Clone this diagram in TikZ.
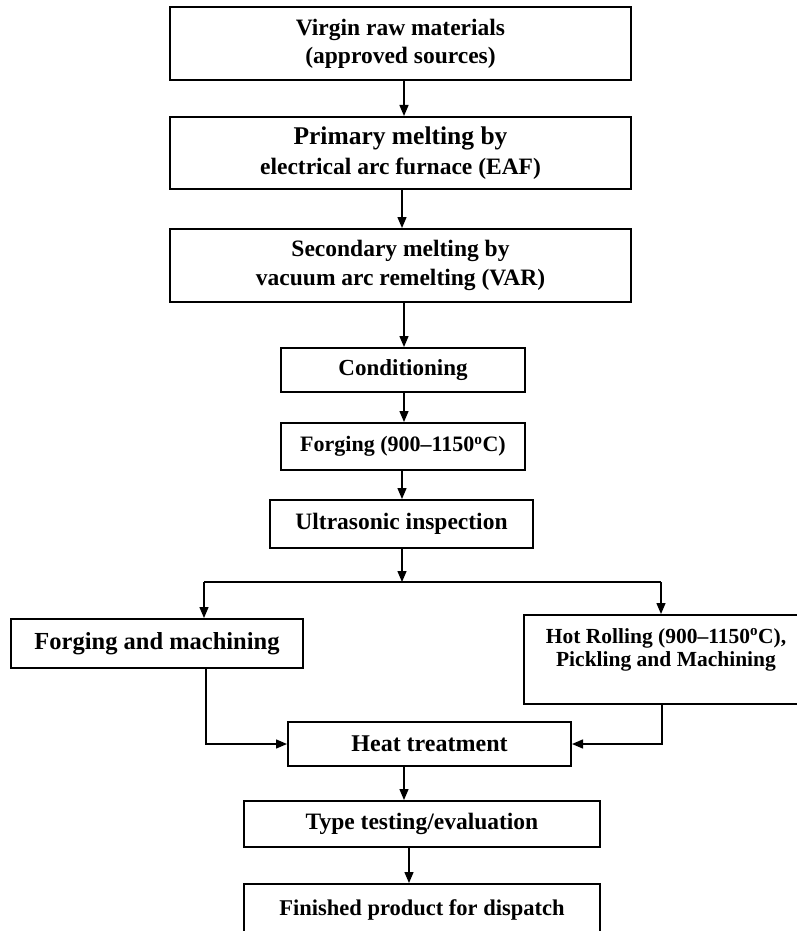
\documentclass[tikz,border=0pt]{standalone}
\usepackage{fontspec}
\setmainfont{Liberation Serif}
\usepackage{tikz}
\usetikzlibrary{arrows.meta,calc}

\begin{document}
\begin{tikzpicture}[
    x=1pt,
    y=-1pt,
    stage/.style={
        draw,
        line width=2pt,
        align=center,
        inner sep=0pt,
        font=\bfseries
    },
    arrow/.style={-{Triangle[length=11pt,width=9pt]}, line width=1.4pt},
    link/.style={line width=1.4pt}
]

\useasboundingbox (0,0) rectangle (796,931);

% ============================================================
% Melting route
% ============================================================

\node[
    stage,
    minimum width=461pt,
    minimum height=73pt,
    font=\bfseries\fontsize{23.5}{28}\selectfont
] (raw) at (400.5,43.5)
{
Virgin raw materials\\
(approved sources)
};

\node[
    stage,
    minimum width=461pt,
    minimum height=72pt,
    font=\bfseries\fontsize{23.5}{30}\selectfont
] (eaf) at (400.5,153)
{
{\fontsize{25.5}{30}\selectfont Primary melting by}\\
electrical arc furnace (EAF)
};

\node[
    stage,
    minimum width=461pt,
    minimum height=73pt,
    font=\bfseries\fontsize{23.5}{29}\selectfont
] (var) at (400.5,265.5)
{
Secondary melting by\\
vacuum arc remelting (VAR)
};

% ============================================================
% Billet preparation
% ============================================================

\node[
    stage,
    minimum width=244pt,
    minimum height=44pt,
    font=\bfseries\fontsize{23}{28}\selectfont
] (cond) at (403,370)
    {Conditioning};

\node[
    stage,
    minimum width=244pt,
    minimum height=47pt,
    font=\bfseries\fontsize{22}{26}\selectfont
] (forge) at (403,446.5)
    {Forging (900--1150\textsuperscript{o}C)};

\node[
    stage,
    minimum width=263pt,
    minimum height=48pt,
    font=\bfseries\fontsize{23.5}{28}\selectfont
] (ultra) at (401.5,524)
    {Ultrasonic inspection};

% Main axis of the column
\coordinate (axis) at (404,0);
\coordinate (axisb) at (402,0);

\draw[arrow] (raw.south -| axis) -- (eaf.north -| axis);
\draw[arrow] (eaf.south -| axisb) -- (var.north -| axisb);
\draw[arrow] (var.south -| axis) -- (cond.north -| axis);
\draw[arrow] (cond.south -| axis) -- (forge.north -| axis);
\draw[arrow] (forge.south -| axisb) -- (ultra.north -| axisb);

% ============================================================
% Two product routes
% ============================================================

\coordinate (split) at (402,582);
\coordinate (splitL) at (204,582);
\coordinate (splitR) at (661,582);

\draw[arrow] (ultra.south -| split) -- (split);
\draw[link] (splitL) -- (splitR);

\node[
    stage,
    minimum width=292pt,
    minimum height=49pt,
    font=\bfseries\fontsize{24.5}{29}\selectfont
] (fmach) at (157,643.5)
    {Forging and machining};

% text sits in the upper part of this box
\node[
    stage,
    minimum width=284pt,
    text height=51pt,
    text depth=38pt,
    font=\bfseries\fontsize{21.5}{23}\selectfont
] (hroll) at (666,659.5)
{
Hot Rolling (900--1150\textsuperscript{o}C),\\
Pickling and Machining
};

\draw[arrow] (splitL) -- (fmach.north -| splitL);
\draw[arrow] (splitR) -- (hroll.north -| splitR);

% ============================================================
% Final operations
% ============================================================

\node[
    stage,
    minimum width=283pt,
    minimum height=44pt,
    font=\bfseries\fontsize{24}{28}\selectfont
] (heat) at (429.5,744)
    {Heat treatment};

\node[
    stage,
    minimum width=356pt,
    minimum height=46pt,
    font=\bfseries\fontsize{23.5}{28}\selectfont
] (type) at (422,824)
    {Type testing/evaluation};

\node[
    stage,
    minimum width=356pt,
    minimum height=52pt,
    font=\bfseries\fontsize{22.5}{26}\selectfont
] (finish) at (422,910)
    {Finished product for dispatch};

% Merging arrows
\coordinate (joinL) at (206,0);
\coordinate (joinR) at (662,0);

\draw[arrow] (fmach.south -| joinL) |- (heat.west);
\draw[arrow] (hroll.south -| joinR) |- (heat.east);

\coordinate (axisc) at (409,0);

\draw[arrow] (heat.south -| axis) -- (type.north -| axis);
\draw[arrow] (type.south -| axisc) -- (finish.north -| axisc);

\end{tikzpicture}
\end{document}
